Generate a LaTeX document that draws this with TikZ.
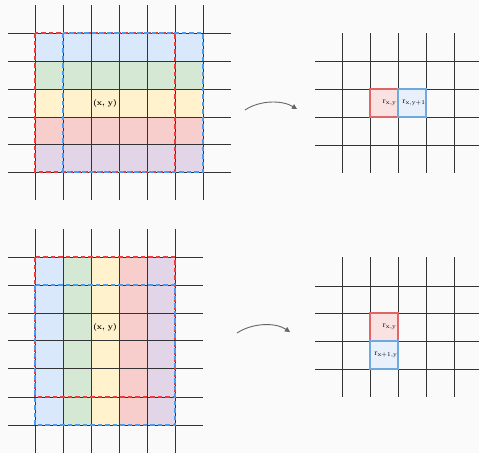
\documentclass[tikz,border=0pt]{standalone}
\usetikzlibrary{arrows.meta}
\definecolor{bgc}{HTML}{FAFAFA}
\definecolor{gridc}{HTML}{333333}
\definecolor{fblue}{HTML}{DAE8FC}
\definecolor{fgreen}{HTML}{D5E8D4}
\definecolor{fyellow}{HTML}{FFF2CC}
\definecolor{fred}{HTML}{F8CECC}
\definecolor{fpurple}{HTML}{E1D5E7}
\definecolor{dred}{HTML}{F03A3A}
\definecolor{dblue}{HTML}{4A9BF0}
\definecolor{cellred}{HTML}{E06666}
\definecolor{cellblue}{HTML}{6FA8DC}
\definecolor{cellredfill}{HTML}{FBE2E2}
\definecolor{cellbluefill}{HTML}{E8F0FC}
\tikzset{
  gridline/.style={draw=gridc, line width=1pt},
  window/.style={line width=1.8pt, dash pattern=on 4.5pt off 3pt},
  redcell/.style={draw=cellred, fill=cellredfill, line width=1.4pt},
  bluecell/.style={draw=cellblue, fill=cellbluefill, line width=1.4pt},
  lbl/.style={font=\fontsize{8}{9}\selectfont, text=black, inner sep=0pt},
  flow/.style={draw=black!60, line width=0.9pt, -{Triangle[length=5pt,width=5pt]}}
}
\begin{document}
\begin{tikzpicture}[x=1pt,y=-1pt]
\fill[bgc] (0,0) rectangle (479,453);
\useasboundingbox (0,0) rectangle (479,453);

% ---------- upper left: rows coloured, horizontal window ----------
\fill[fblue]   (35,33)  rectangle (203,61);
\fill[fgreen]  (35,61)  rectangle (203,89);
\fill[fyellow] (35,89)  rectangle (203,117);
\fill[fred]    (35,117) rectangle (203,144);
\fill[fpurple] (35,144) rectangle (203,172);
\foreach \x in {35,63,91,119,147,175,203}
  \draw[gridline] (\x,5) -- (\x,200);
\foreach \y in {33,61,89,117,144,172}
  \draw[gridline] (8,\y) -- (231,\y);
\draw[window, draw=dred]  (35,33) rectangle (175,172);
\draw[window, draw=dblue] (63,33) rectangle (203,172);
\node[lbl, font=\fontsize{8}{9}\selectfont\bfseries] (c1) at (105,103) {(x, y)};

% ---------- upper right: result pair side by side ----------
\foreach \y in {61,89,117,145}
  \draw[gridline] (315,\y) -- (479,\y);
\node[redcell, minimum size=28pt, inner sep=0pt] (ra) at (384,103) {};
\node[bluecell, minimum size=28pt, inner sep=0pt] (rb) at (412,103) {};
\foreach \x in {342,370,398,426,454}
  \draw[gridline] (\x,33) -- (\x,173);
\draw[redcell, fill=none] (370,89) rectangle (398,117);
\draw[bluecell, fill=none] (398,89) rectangle (426,117);
\node[lbl, anchor=east] at ([xshift=-2pt]ra.east) {$\mathrm{r}_{\mathrm{x,y}}$};
\node[lbl, anchor=east] at ([xshift=-1pt]rb.east) {$\mathrm{r}_{\mathrm{x,y+1}}$};

\coordinate (a1s) at (245,110);
\coordinate (a1e) at (297,109);
\draw[flow] (a1s) .. controls (260,100) and (282,100) .. (a1e);

% ---------- lower left: columns coloured, vertical window ----------
\fill[fblue]   (35,257)  rectangle (63,425);
\fill[fgreen]  (63,257)  rectangle (91,425);
\fill[fyellow] (91,257)  rectangle (119,425);
\fill[fred]    (119,257) rectangle (147,425);
\fill[fpurple] (147,257) rectangle (175,425);
\foreach \x in {35,63,91,119,147,175}
  \draw[gridline] (\x,229) -- (\x,453);
\foreach \y in {257,285,313,340,368,397,425}
  \draw[gridline] (8,\y) -- (203,\y);
\draw[window, draw=dred]  (35,257) rectangle (175,397);
\draw[window, draw=dblue] (35,285) rectangle (175,425);
\node[lbl, font=\fontsize{8}{9}\selectfont\bfseries] (c2) at (105,327) {(x, y)};

% ---------- lower right: result pair stacked ----------
\foreach \y in {286,313,341,369}
  \draw[gridline] (315,\y) -- (479,\y);
\node[redcell, minimum size=28pt, inner sep=0pt] (rc) at (384,327) {};
\node[bluecell, minimum size=28pt, inner sep=0pt] (rd) at (384,355) {};
\foreach \x in {342,370,398,426,454}
  \draw[gridline] (\x,257) -- (\x,397);
\draw[redcell, fill=none] (370,313) rectangle (398,341);
\draw[bluecell, fill=none] (370,341) rectangle (398,369);
\node[lbl, anchor=east] at ([xshift=-2pt]rc.east) {$\mathrm{r}_{\mathrm{x,y}}$};
\node[lbl, anchor=east] at ([xshift=-1pt]rd.east) {$\mathrm{r}_{\mathrm{x+1,y}}$};

\coordinate (a2s) at (237,333);
\coordinate (a2e) at (290,332);
\draw[flow] (a2s) .. controls (252,323) and (275,322) .. (a2e);
\end{tikzpicture}
\end{document}
